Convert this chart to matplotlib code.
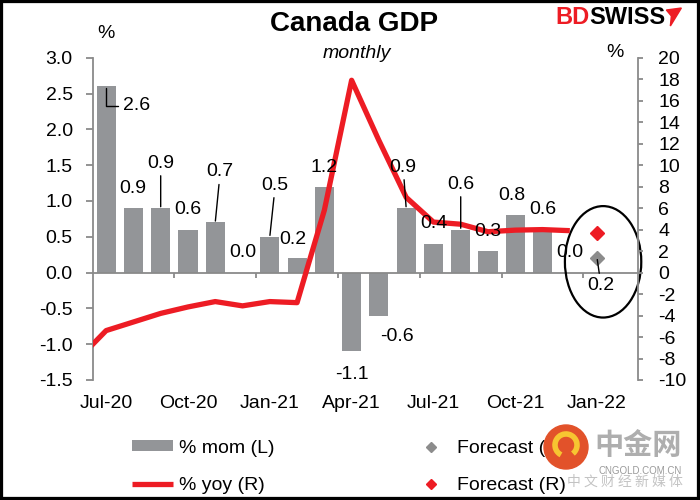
import matplotlib
matplotlib.use("Agg")
import matplotlib.pyplot as plt
from matplotlib.patches import Ellipse, Rectangle, Polygon, Arc

plt.rcParams['font.family'] = ['Liberation Sans', 'DejaVu Sans']
plt.rcParams['axes.unicode_minus'] = False

# ---------------- data ----------------
months = ['Jul-20', 'Aug-20', 'Sep-20', 'Oct-20', 'Nov-20', 'Dec-20',
          'Jan-21', 'Feb-21', 'Mar-21', 'Apr-21', 'May-21', 'Jun-21',
          'Jul-21', 'Aug-21', 'Sep-21', 'Oct-21', 'Nov-21', 'Dec-21',
          'Jan-22', 'Feb-22']
mom = [2.6, 0.9, 0.9, 0.6, 0.7, 0.0, 0.5, 0.2, 1.2, -1.1, -0.6, 0.9,
       0.4, 0.6, 0.3, 0.8, 0.6, 0.0]
# yoy starts one month earlier (Jun-20), clipped by the axis
yoy_months = ['Jun-20'] + months[:18]
yoy = [-8.0, -5.4, -4.6, -3.8, -3.2, -2.7, -3.1, -2.7, -2.8, 5.8, 17.9,
       12.3, 7.0, 4.7, 4.5, 3.8, 3.95, 4.0, 3.9]
forecast_month = 'Jan-22'
forecast_mom = 0.2
forecast_yoy = 3.7
tick_labels = ['Jul-20', 'Oct-20', 'Jan-21', 'Apr-21', 'Jul-21', 'Oct-21', 'Jan-22']

# label offsets (px) relative to bar end, and leader style
label_style = [(30.5, -19.5, 'L'), (-1, 19.6, None), (0, 45, 'v'), (0, 20, None),
               (5, 50.6, 'v'), (0, 20, None), (5.5, 51.7, 'v'), (-4.7, 19, None),
               (0, 19.6, None), (0, -23, None), (18, -21.4, None), (-3, 41, 'v'),
               (0, 20.6, None), (0, 45.5, 'v'), (0, 19.4, None), (-3, 20, None),
               (0, 20, None), (0, 20, None)]
forecast_label_style = (4, -27.7, 'v')

GREY = '#939598'
RED = '#ED1C24'
AXC = '#8a8a8a'
FS = 14
PX = 0.72  # px -> points at 100 dpi

fig = plt.figure(figsize=(7, 5), dpi=100)
W, H = 700, 500
ax = fig.add_axes([92.5 / W, 120 / H, (638 - 92.5) / W, (380 - 57.7) / H])
ax2 = ax.twinx()

idx = {m: i for i, m in enumerate(months)}
xb = [idx[m] for m in months[:len(mom)]]
bars = ax.bar(xb, mom, width=0.7, color=GREY, zorder=2)
xl = [i - 1 for i in range(len(yoy_months))]
line, = ax2.plot(xl, yoy, color=RED, lw=3.8, solid_joinstyle='round',
                 solid_capstyle='butt', zorder=3)
gd, = ax.plot([idx[forecast_month]], [forecast_mom], marker='D', ms=7,
              color='#8c8c8c', ls='none', zorder=4)
rd, = ax2.plot([idx[forecast_month]], [forecast_yoy], marker='D', ms=7,
               color=RED, ls='none', zorder=4)

ax.set_xlim(-0.5, len(months) - 0.5)
ax.set_ylim(-1.5, 3.0)
ax2.set_ylim(-10, 20)
ax.set_yticks([-1.5 + 0.5 * k for k in range(10)])
ax.set_yticklabels([f'{-1.5 + 0.5 * k:.1f}' for k in range(10)])
ax2.set_yticks(list(range(-10, 21, 2)))

for s in ['top', 'right']:
    ax.spines[s].set_visible(False)
for s in ['top', 'left', 'bottom']:
    ax2.spines[s].set_visible(False)
ax.spines['left'].set_color(AXC)
ax.spines['left'].set_linewidth(1.3)
ax2.spines['right'].set_color(AXC)
ax2.spines['right'].set_linewidth(1.3)
ax.spines['bottom'].set_position(('data', 0))
ax.spines['bottom'].set_color(AXC)
ax.spines['bottom'].set_linewidth(1.3)
ax.spines['bottom'].set_zorder(2.5)

ax.tick_params(axis='y', direction='out', length=4.8, width=1.3, color=AXC,
               labelsize=FS, pad=9.4)
ax2.tick_params(axis='y', direction='out', length=3.6, width=1.3, color=AXC,
                labelsize=FS, pad=11.0)
ax.set_xticks([2.5 + 3 * k for k in range(6)])
ax.tick_params(axis='x', direction='out', length=3.6, width=1.3, color=AXC,
               labelbottom=False)

sec = ax.secondary_xaxis(0.0)
sec.set_xticks([idx[m] for m in tick_labels])
sec.set_xticklabels(tick_labels)
sec.tick_params(length=0, labelsize=FS, pad=11)
sec.spines['bottom'].set_visible(False)

# data labels
def put_label(x, y, text, style):
    dx, dy, kind = style
    kw = dict(xy=(x, y), xycoords=ax.transData,
              xytext=(dx * PX, dy * PX), textcoords='offset points',
              ha='center', va='center', fontsize=FS, zorder=6)
    if kind == 'v':
        kw['arrowprops'] = dict(arrowstyle='-', color='black', lw=1.0,
                                shrinkA=1, shrinkB=1)
    elif kind == 'L':
        kw['arrowprops'] = dict(arrowstyle='-', color='black', lw=1.0,
                                shrinkA=2, shrinkB=-1,
                                connectionstyle='angle,angleA=0,angleB=90,rad=0')
    ax2.annotate(text, **kw)

for x, v, st in zip(xb, mom, label_style):
    put_label(x, v, f'{v:.1f}', st)
put_label(idx[forecast_month], forecast_mom, f'{forecast_mom:.1f}',
          forecast_label_style)

# ellipse around forecasts
ell = Ellipse((idx[forecast_month] + 0.22, 0.15), width=2.8, height=1.556,
              fill=False, edgecolor='black', lw=1.6, clip_on=False, zorder=7,
              transform=ax.transData)
ax.add_patch(ell)

# titles / units
fig.text(354 / W, 1 - 24 / H, 'Canada GDP', fontsize=20, fontweight='bold',
         ha='center', va='center')
fig.text(357 / W, 1 - 53 / H, 'monthly', fontsize=14, style='italic',
         ha='center', va='center')
fig.text(106 / W, 1 - 33 / H, '%', fontsize=FS, ha='center', va='center')
fig.text(615 / W, 1 - 52.7 / H, '%', fontsize=FS, ha='center', va='center')

# brand
bd = fig.text(555 / W, 1 - 18 / H, 'BD', fontsize=17, fontweight='bold',
              color=RED, ha='left', va='center')
sw = fig.text(0, 0, 'SWISS', fontsize=17, fontweight='bold', color='black',
              ha='left', va='center')
fig.canvas.draw()
r = fig.canvas.get_renderer()
bb = bd.get_window_extent(r)
sw.set_position((bb.x1 / W, 1 - 18 / H))
fig.canvas.draw()
bb2 = sw.get_window_extent(r)
x0 = bb2.x1 + 1
fig.patches.append(Polygon([[x0 / W, (500 - 10) / H], [(x0 + 15) / W, (500 - 8) / H],
                            [(x0 + 4) / W, (500 - 26) / H], [(x0 + 5) / W, (500 - 16) / H]],
                           closed=True, transform=fig.transFigure, color=RED))

# legend
fig.legend(handles=[bars, line, gd, rd],
           labels=['% mom (L)', '% yoy (R)', 'Forecast (L)', 'Forecast (R)'],
           ncol=2, frameon=False, fontsize=FS, handlelength=2.1,
           handleheight=0.5, handletextpad=0.3, columnspacing=7.0,
           labelspacing=1.05, markerscale=0.75,
           loc='center', bbox_to_anchor=(349 / W, 1 - 467 / H))

# watermark
fig.patches.append(Ellipse((566 / W, 1 - 447 / H), 44 / W, 44 / H,
                           transform=fig.transFigure, color='#E2522A', zorder=10))
fig.patches.append(Arc((566 / W, 1 - 445 / H), 22 / W, 22 / H, theta1=-60, theta2=250,
                       transform=fig.transFigure, color='#F7C531', lw=4, zorder=11))
fig.text(638 / W, 1 - 445 / H, '中金网', fontsize=21, fontweight='bold',
         color='#aeaeae', ha='center', va='center', zorder=10,
         family=['Noto Sans CJK SC', 'DejaVu Sans'])
fig.text(640 / W, 1 - 470.7 / H, 'CNGOLD.COM.CN', fontsize=7, color='#9a9a9a',
         ha='center', va='center', zorder=10)
fig.text(625 / W, 1 - 482 / H, '中 文 财 经 新 媒 体', fontsize=10, color='#b5b5b5',
         alpha=0.8, ha='center', va='center', zorder=10,
         family=['Noto Sans CJK SC', 'DejaVu Sans'])

# outer frame
fig.patches.append(Rectangle((0, 0), 1, 1, transform=fig.transFigure, fill=False,
                             edgecolor='black', lw=4.5, zorder=20))

fig.savefig('out.png', dpi=100)
